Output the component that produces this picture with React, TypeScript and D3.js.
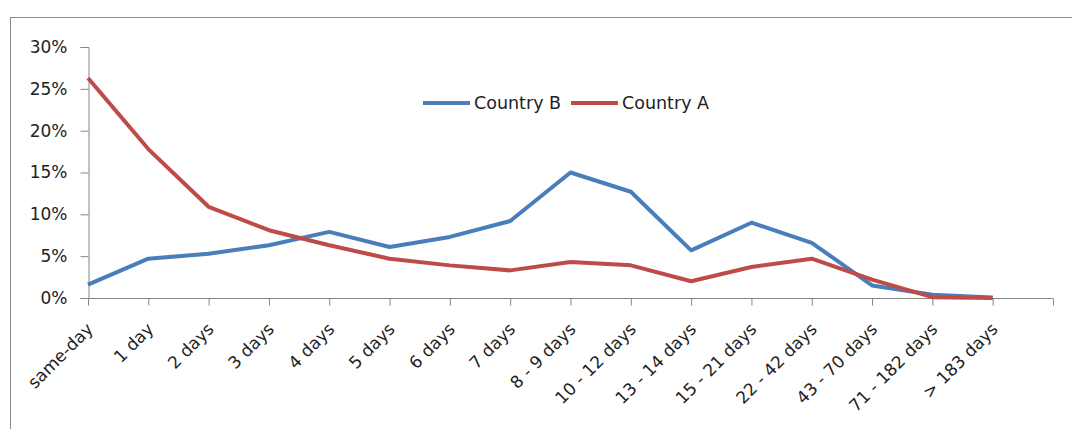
import React, { useEffect, useRef } from 'react';
import * as d3 from 'd3';

const categories = [
  'same-day', '1 day', '2 days', '3 days', '4 days', '5 days', '6 days', '7 days',
  '8 - 9 days', '10 - 12 days', '13 - 14 days', '15 - 21 days', '22 - 42 days',
  '43 - 70 days', '71 - 182 days', '> 183 days',
];
const countryB = [1.6, 4.7, 5.3, 6.3, 7.9, 6.1, 7.3, 9.2, 15.0, 12.7, 5.7, 9.0, 6.6, 1.5, 0.4, 0.05];
const countryA = [26.3, 17.8, 10.9, 8.1, 6.3, 4.7, 3.9, 3.3, 4.3, 3.9, 2.0, 3.7, 4.7, 2.2, 0.1, 0.0];
const yTicks = [0, 5, 10, 15, 20, 25, 30];

const series = [
  { name: 'Country B', values: countryB, color: '#4a7ebb' },
  { name: 'Country A', values: countryA, color: '#be4b48' },
];

const W = 1072;
const H = 429;
const FONT = 'DejaVu Sans, sans-serif';

const App: React.FC = () => {
  const svgRef = useRef<SVGSVGElement>(null);

  useEffect(() => {
    if (!svgRef.current) return;
    const svg = d3.select(svgRef.current);
    svg.selectAll('*').remove();

    const margin = { top: 47, left: 88, bottom: H - 298, right: W - 1053 };

    // outer chart border (runs off right and bottom edges)
    svg.append('rect')
      .attr('x', 10.5).attr('y', 17.5)
      .attr('width', 1100).attr('height', 500)
      .attr('fill', '#fff').attr('stroke', '#8a8a8a').attr('stroke-width', 1);

    // one spare slot at the end, like the source
    const x = d3.scaleLinear().domain([0, categories.length]).range([margin.left, W - margin.right]);
    const y = d3.scaleLinear().domain([0, 30]).range([H - margin.bottom, margin.top]);

    // Y axis
    const yAxis = svg.append('g')
      .attr('transform', `translate(${margin.left + 0.5},0)`)
      .call(d3.axisLeft(y).tickValues(yTicks).tickSize(8).tickPadding(13).tickFormat(d => `${d}%`));
    yAxis.selectAll('path,line').attr('stroke', '#868686');
    yAxis.selectAll('text').attr('font-family', FONT).attr('font-size', 17).attr('fill', '#222');

    // X axis
    const xAxis = svg.append('g')
      .attr('transform', `translate(0,${y(0) + 0.5})`)
      .call(d3.axisBottom(x).tickValues(d3.range(categories.length + 1)).tickSize(7).tickFormat(() => ''));
    xAxis.selectAll('path,line').attr('stroke', '#868686');
    xAxis.select('.domain').attr('d', `M${x(0)},0H${x(categories.length)}`);

    svg.append('g').selectAll('text')
      .data(categories)
      .join('text')
      .attr('transform', (_, i) => `translate(${x(i) + 2},${y(0) + 28}) rotate(-45)`)
      .attr('text-anchor', 'end')
      .attr('dy', '0.35em')
      .attr('font-family', FONT).attr('font-size', 17).attr('fill', '#222')
      .text(d => d);

    // Lines
    const line = d3.line<number>()
      .x((_, i) => x(i))
      .y(d => y(d));

    series.forEach(s => {
      svg.append('path')
        .datum(s.values)
        .attr('fill', 'none')
        .attr('stroke', s.color)
        .attr('stroke-width', 4)
        .attr('stroke-linejoin', 'round')
        .attr('d', line);
    });

    // Legend
    const legendItems = [
      { ...series[0], x0: 423 },
      { ...series[1], x0: 571 },
    ];
    legendItems.forEach(l => {
      svg.append('line')
        .attr('x1', l.x0).attr('x2', l.x0 + 47)
        .attr('y1', 103).attr('y2', 103)
        .attr('stroke', l.color).attr('stroke-width', 4);
      svg.append('text')
        .attr('x', l.x0 + 51).attr('y', 103)
        .attr('dy', '0.35em')
        .attr('font-family', FONT).attr('font-size', 17.5).attr('fill', '#222')
        .text(l.name);
    });
  }, []);

  return (
    <svg
      ref={svgRef}
      width={W}
      height={H}
      style={{ position: 'absolute', left: 0, top: 0, background: '#fff' }}
    />
  );
};

export default App;
